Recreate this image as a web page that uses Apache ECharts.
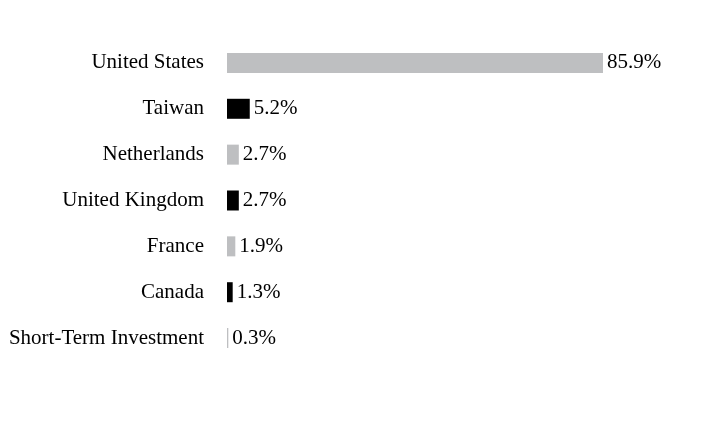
<!DOCTYPE html>
<html><head><meta charset="utf-8">
<script src="https://cdn.jsdelivr.net/npm/echarts@6/dist/echarts.min.js"></script>
<style>html,body{margin:0;padding:0;background:#fff}#c{width:704px;height:444px}</style>
</head><body><div id="c"></div>
<script>
const categories = ["United States","Taiwan","Netherlands","United Kingdom","France","Canada","Short-Term Investment"];
const values = [85.9,5.2,2.7,2.7,1.9,1.3,0.3];
const barColors = ["#bebfc1","#000000","#bebfc1","#000000","#bebfc1","#000000","#bebfc1"];
const chart = echarts.init(document.getElementById('c'));
const font = "'Liberation Serif','Times New Roman',serif";
chart.setOption({
  animation:false,
  grid:{left:227,top:40,bottom:83,width:437.7,containLabel:false},
  xAxis:{type:'value',min:0,max:100,show:false},
  yAxis:{type:'category',inverse:true,data:categories,
    axisLine:{show:false},axisTick:{show:false},
    axisLabel:{margin:23,color:'#000',fontFamily:font,fontSize:21,padding:[4,0,0,0]}},
  series:[{type:'bar',barWidth:20,
    data:values.map((v,i)=>({value:v,itemStyle:{color:barColors[i]}})),
    label:{show:true,position:'right',distance:4,color:'#000',fontFamily:font,fontSize:21,padding:[4,0,0,0],
      formatter:p=>p.value.toFixed(1)+'%'}}]
});
</script></body></html>
